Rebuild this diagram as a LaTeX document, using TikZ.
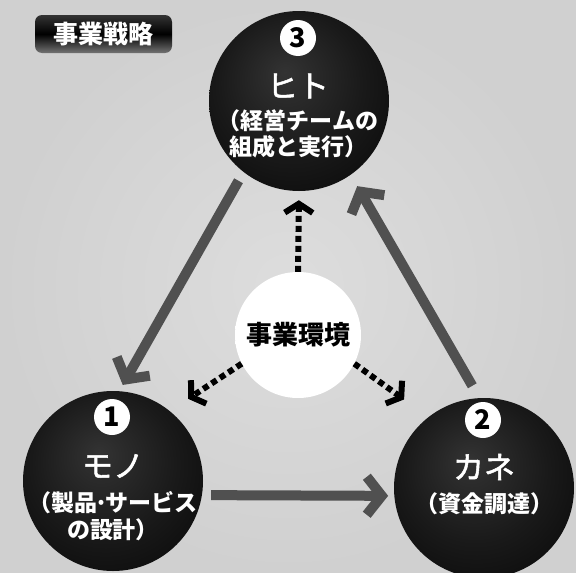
\documentclass[tikz,border=0pt]{standalone}
\usepackage{fontspec}
\setmainfont{Noto Sans CJK JP}
\newfontfamily\headfont{Noto Sans CJK JP}[FakeBold=1.6]
\usetikzlibrary{arrows.meta,shadings}
\definecolor{bgc}{HTML}{D0D0D0}
\definecolor{bgin}{HTML}{DDDDDD}
\definecolor{arrg}{HTML}{505050}
\pgfdeclareradialshading{blackball}{\pgfpoint{-4bp}{8bp}}{color(0bp)=(black!80); color(20bp)=(black!90); color(40bp)=(black!98); color(50bp)=(black)}
\pgfdeclareradialshading{whiteball}{\pgfpoint{0bp}{0bp}}{color(0bp)=(white); color(40bp)=(white); color(47bp)=(black!6); color(50bp)=(black!22)}
\begin{document}
\begin{tikzpicture}[x=1pt,y=-1pt,
  bigc/.style={circle,minimum size=180pt,inner sep=0pt,shading=blackball},
  envc/.style={circle,minimum size=126pt,inner sep=0pt,shading=whiteball},
  numc/.style={circle,fill=white,minimum size=36pt,inner sep=0pt,font=\bfseries\fontsize{27}{27}\selectfont,text=black},
  headt/.style={text=white,font=\headfont\fontsize{31}{31}\selectfont,inner sep=0pt},
  subt/.style={text=white,font=\bfseries\fontsize{23}{26.5}\selectfont,align=center,inner sep=0pt},
  grayarr/.style={draw=arrg,line width=10pt,-{Straight Barb[length=15pt,width=38pt]}},
  dasharr/.style={draw=black,line width=6pt,dash pattern=on 6pt off 4pt,-{Straight Barb[length=9pt,width=28pt]}}
]
\useasboundingbox (0,0) rectangle (576,573);
\shade[inner color=bgin,outer color=bgc] (0,0) rectangle (576,573);

% title
\node[rounded corners=7pt,minimum width=137pt,minimum height=38pt,inner sep=0pt,
      top color=black!80,bottom color=black!55,middle color=black,
      text=white,font=\bfseries\fontsize{25}{25}\selectfont] (title) at (103.5,34) {事業戦略};

% circles
\node[bigc] (c3) at (299,101) {};
\node[bigc] (c1) at (113,481) {};
\node[bigc] (c2) at (484,488) {};
\node[envc] (c0) at (298,335) {};

% gray arrows
\draw[grayarr,shorten <=10pt,shorten >=7pt] (c3.232) -- (c1.86);
\draw[grayarr,shorten <=14pt,shorten >=13pt] (c2.93) -- (c3.305);
\draw[grayarr,shorten <=9pt,shorten >=6pt] (c1.-9) -- (c2.185);

% dashed arrows
\draw[dasharr,shorten >=9pt] (c0.north) -- (c3.south);
\draw[dasharr,shorten >=22pt] (c0.207) -- (c1.51);
\draw[dasharr,shorten >=30pt] (c0.333) -- (c2.128);

% texts
\node[text=black,font=\bfseries\fontsize{26}{26}\selectfont,inner sep=0pt] (envt) at (298,335) {事業環境};

\node[numc] (n3) at (298,38) {3};
\node[headt] (h3) at (298,86) {ヒト};
\node[subt] (s3) at (298,134) {（経営チームの\\組成と実行）};

\node[numc] (n1) at (112,417) {1};
\node[headt] (h1) at (113,466) {モノ};
\node[subt] (s1) at (113,516) {（製品\hspace{-0.12em}·\hspace{-0.12em}サービス\\の設計）};

\node[numc] (n2) at (483,420) {2};
\node[headt] (h2) at (484,467) {カネ};
\node[subt] (s2) at (484,504) {（資金調達）};
\end{tikzpicture}
\end{document}
